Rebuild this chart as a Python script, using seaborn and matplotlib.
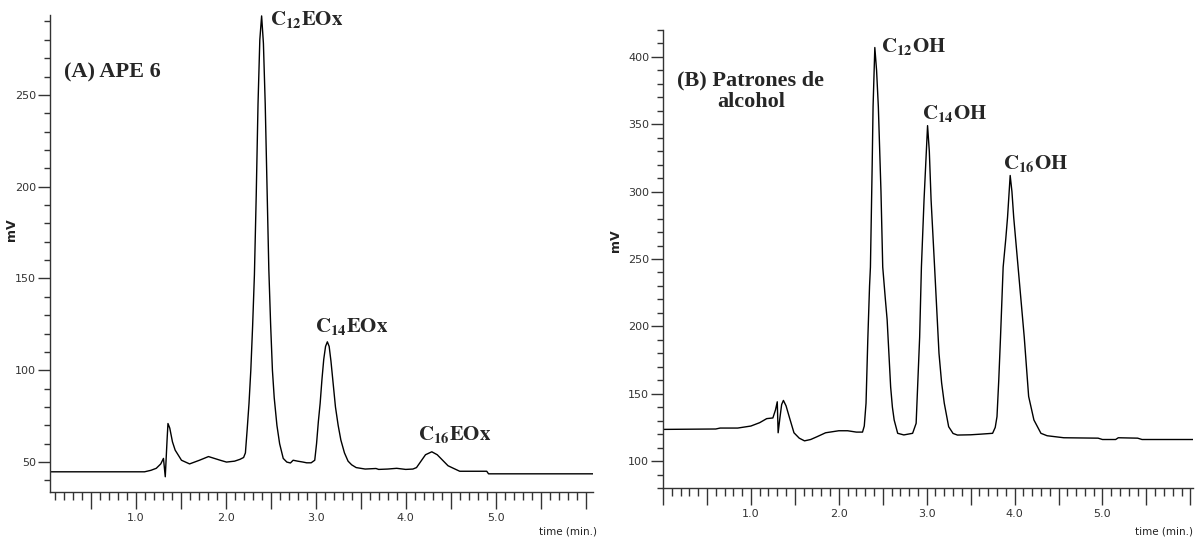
import matplotlib
matplotlib.use('Agg')
import matplotlib.pyplot as plt
from matplotlib.ticker import MultipleLocator, FuncFormatter
import seaborn as sns

# (A) APE 6 chromatogram
time_a = [0.05, 1.10, 1.17, 1.23, 1.28, 1.31, 1.33, 1.35, 1.36, 1.38, 1.41, 1.44,
          1.51, 1.60, 1.71, 1.81, 1.94, 2.01, 2.10, 2.16, 2.20, 2.22, 2.24, 2.26,
          2.28, 2.30, 2.32, 2.34, 2.36, 2.38, 2.40, 2.42, 2.44, 2.46, 2.48, 2.50,
          2.52, 2.54, 2.57, 2.60, 2.64, 2.68, 2.72, 2.75, 2.80, 2.86, 2.90, 2.95,
          2.99, 3.01, 3.03, 3.05, 3.07, 3.09, 3.11, 3.13, 3.15, 3.17, 3.19, 3.22,
          3.25, 3.28, 3.32, 3.36, 3.40, 3.45, 3.55, 3.67, 3.70, 3.80, 3.90, 4.00,
          4.08, 4.12, 4.17, 4.22, 4.29, 4.35, 4.41, 4.47, 4.53, 4.60, 4.90, 4.92,
          6.08]
mv_a = [44.7, 44.7, 45.5, 46.6, 49, 52, 42, 62, 71, 68.5, 61, 56.5,
        51, 49, 51, 53, 51, 50, 50.5, 51.5, 52.5, 55, 68, 82,
        100, 124, 152, 195, 245, 280, 293, 278, 245, 200, 155, 125,
        100, 85, 70, 60, 52, 50, 49.5, 51, 50.5, 50, 49.6, 49.6,
        51, 60, 72, 82, 95, 106, 113, 115.5, 113, 105, 95, 80,
        70, 62, 55, 50.5, 48.5, 47, 46.2, 46.5, 46, 46.2, 46.6, 46,
        46.2, 47, 50.5, 54, 55.6, 54, 51, 48, 46.6, 45, 45, 43.6,
        43.6]

# (B) alcohol standards chromatogram
time_b = [0.00, 0.60, 0.65, 0.85, 1.00, 1.10, 1.18, 1.25, 1.28, 1.30, 1.31, 1.33,
          1.35, 1.37, 1.40, 1.44, 1.49, 1.55, 1.61, 1.68, 1.75, 1.85, 2.00, 2.10,
          2.20, 2.27, 2.29, 2.31, 2.33, 2.35, 2.36, 2.38, 2.39, 2.41, 2.43, 2.45,
          2.48, 2.50, 2.53, 2.55, 2.59, 2.61, 2.63, 2.67, 2.74, 2.84, 2.88, 2.90,
          2.92, 2.94, 2.97, 3.01, 3.03, 3.05, 3.09, 3.14, 3.17, 3.20, 3.25, 3.30,
          3.35, 3.50, 3.62, 3.75, 3.78, 3.80, 3.82, 3.84, 3.87, 3.90, 3.92, 3.95,
          3.97, 3.99, 4.04, 4.11, 4.16, 4.22, 4.30, 4.37, 4.56, 4.95, 5.00, 5.15,
          5.18, 5.40, 5.45, 6.03]
mv_b = [123.5, 123.8, 124.5, 124.5, 126, 128.5, 131.5, 132, 138, 144, 121, 132,
        142, 145, 141, 132, 121, 117, 115, 116, 118, 121, 122.5, 122.5,
        121.5, 121.5, 126, 143, 190, 230, 244, 320, 363, 407, 390, 363,
        300, 244, 220, 205, 155, 140, 130.5, 120.6, 119.4, 120.6, 128, 160,
        192, 244, 294, 349, 330, 294, 244, 180, 158, 143, 125.5, 120.5,
        119.3, 119.5, 120, 120.6, 125, 133, 160, 192, 244, 265, 281, 312,
        300, 281, 244, 192, 148, 130.5, 120.6, 118.8, 117.3, 117, 116, 116,
        117.3, 117, 116, 116]

labels_a = [r'$\mathbf{C_{12}EOx}$', r'$\mathbf{C_{14}EOx}$', r'$\mathbf{C_{16}EOx}$']
label_pos_a = [(2.49, 291), (2.99, 124), (4.14, 65)]
labels_b = [r'$\mathbf{C_{12}OH}$', r'$\mathbf{C_{14}OH}$', r'$\mathbf{C_{16}OH}$']
label_pos_b = [(2.48, 408), (2.95, 358), (3.87, 321)]

sns.set_style("ticks")
plt.rcParams['font.family'] = ['DejaVu Sans']
plt.rcParams['mathtext.fontset'] = 'stix'

fig = plt.figure(figsize=(11.95, 5.39), dpi=100)
ax_a = fig.add_axes([50 / 1195, 1 - 492 / 539, 543 / 1195, 477 / 539])
ax_b = fig.add_axes([663 / 1195, 1 - 488 / 539, 530 / 1195, 458 / 539])

sns.lineplot(x=time_a, y=mv_a, ax=ax_a, color='black', linewidth=1.0,
             estimator=None, sort=False)
sns.lineplot(x=time_b, y=mv_b, ax=ax_b, color='black', linewidth=1.0,
             estimator=None, sort=False)

ax_a.set_xlim(0.05, 6.08)
ax_a.set_ylim(33.7, 293.5)
ax_b.set_xlim(0.0, 6.03)
ax_b.set_ylim(80, 420)


def int_label(v, pos):
    # only whole minutes 1..5 carry a label
    if 1 <= v <= 5.01 and abs(v - round(v)) < 1e-6:
        return f"{v:.1f}"
    return ""


for ax in (ax_a, ax_b):
    sns.despine(ax=ax)
    for side in ('left', 'bottom'):
        ax.spines[side].set_color('#333333')
        ax.spines[side].set_linewidth(1.0)
    ax.xaxis.set_major_locator(MultipleLocator(0.5))
    ax.xaxis.set_minor_locator(MultipleLocator(0.1))
    ax.xaxis.set_major_formatter(FuncFormatter(int_label))
    ax.yaxis.set_major_locator(MultipleLocator(50))
    ax.yaxis.set_minor_locator(MultipleLocator(10))
    ax.tick_params(axis='x', which='major', length=12, width=1, color='#333333',
                   labelsize=8, labelcolor='#333333', pad=3)
    ax.tick_params(axis='x', which='minor', length=6, width=1, color='#333333')
    ax.tick_params(axis='y', which='major', length=9, width=1, color='#333333',
                   labelsize=8, labelcolor='#333333', pad=1)
    ax.tick_params(axis='y', which='minor', length=4, width=1, color='#333333')
    ax.set_xlabel('')
    ax.set_ylabel('mV', fontsize=9, fontweight='bold', color='#222222')

ax_a.yaxis.set_label_coords(-0.059, 0.55)
ax_b.yaxis.set_label_coords(-0.077, 0.54)

ax_a.text(0.21, 262, '(A) APE 6', family='Liberation Serif', fontweight='bold',
          fontsize=16, va='center', ha='left')
ax_b.text(1.0, 374.5, '(B) Patrones de\nalcohol', family='Liberation Serif',
          fontweight='bold', fontsize=16, va='center', ha='center', linespacing=1.1)

for txt, (x, y) in zip(labels_a, label_pos_a):
    ax_a.text(x, y, txt, fontsize=15, va='center', ha='left')
for txt, (x, y) in zip(labels_b, label_pos_b):
    ax_b.text(x, y, txt, fontsize=15, va='center', ha='left')

fig.text(597 / 1195, 1 - 532 / 539, 'time (min.)', fontsize=7.5, color='#222222',
         ha='right', va='center')
fig.text(1193 / 1195, 1 - 532 / 539, 'time (min.)', fontsize=7.5, color='#222222',
         ha='right', va='center')

fig.savefig('out.png', dpi=100)
